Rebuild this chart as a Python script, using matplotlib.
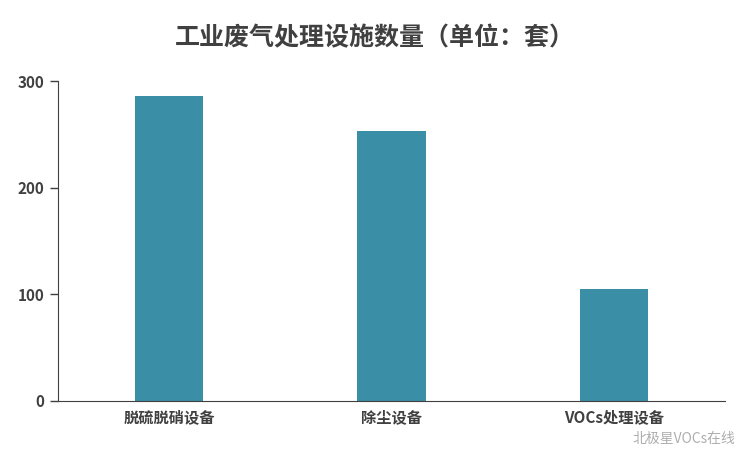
import matplotlib
matplotlib.use("Agg")
import matplotlib.pyplot as plt

categories = ["脱硫脱硝设备", "除尘设备", "VOCs处理设备"]
values = [286, 253, 105]
yticks = [0, 100, 200, 300]
title = "工业废气处理设施数量（单位：套）"

plt.rcParams["font.family"] = "Noto Sans CJK SC"
fig = plt.figure(figsize=(7.5, 4.5), dpi=100)
ax = fig.add_axes([0.077, 0.109, 0.89, 0.711])
x = list(range(len(categories)))
ax.bar(x, values, width=0.31, color="#3A8EA5")
ax.set_xlim(-0.5, 2.5)
ax.set_ylim(0, 300)
ax.set_yticks(yticks)
ax.set_xticks(x)
ax.set_xticklabels(categories, fontsize=11, fontweight="bold", color="#404040")
ax.tick_params(axis="y", labelsize=11, colors="#404040", length=6, width=1)
for lab in ax.get_yticklabels():
    lab.set_fontweight("bold")
ax.tick_params(axis="x", length=0, pad=6)
for s in ["top", "right"]:
    ax.spines[s].set_visible(False)
ax.spines["left"].set_color("#404040")
ax.spines["bottom"].set_color("#404040")
fig.text(0.5, 0.915, title, ha="center", va="center", fontsize=18, fontweight="bold", color="#404040")
fig.text(0.98, 0.025, "北极星VOCs在线", ha="right", va="center", fontsize=10, color="#999999", alpha=0.8)
fig.savefig("out.png")
